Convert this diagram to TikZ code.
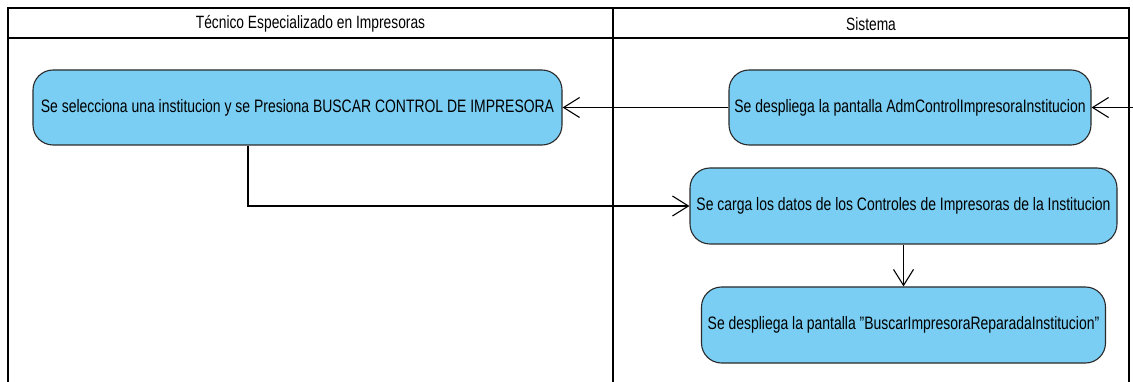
\documentclass[tikz,border=0pt]{standalone}
\usepackage{fontspec}
\setmainfont{Liberation Sans}[FakeStretch=0.775]
\usetikzlibrary{arrows.meta}
\definecolor{actfill}{HTML}{7ACEF3}
\definecolor{actline}{HTML}{2A2A2A}
\tikzset{
  action/.style={draw=actline, line width=1.1pt, fill=actfill, rounded corners=20pt,
    inner sep=0pt, minimum height=75pt, font=\fontsize{18}{21}\selectfont},
  lane/.style={draw=black, line width=1.8pt},
  lanetitle/.style={inner sep=0pt, font=\fontsize{17.8}{21}\selectfont},
  flow/.style={draw=black, line width=1.1pt,
    -{Straight Barb[length=16pt, width=20pt, line width=1.1pt]}}
}
\begin{document}
\begin{tikzpicture}[x=1pt, y=-1pt]
\useasboundingbox (0,0) rectangle (1133,382);
% swimlanes
\draw[lane] (8,382) -- (8,8) -- (1129,8) -- (1129,382);
\draw[lane] (8,38) -- (1129,38);
\draw[lane] (613,8) -- (613,382);
\node[lanetitle] (t1) at (310.5,24) {Técnico Especializado en Impresoras};
\node[lanetitle] (t2) at (871,24) {Sistema};
% actions
\node[action, minimum width=529pt] (n1) at (297.5,107.5)
  {Se selecciona una institucion y se Presiona BUSCAR CONTROL DE IMPRESORA};
\node[action, minimum width=362pt] (n2) at (910,107.5)
  {Se despliega la pantalla AdmControlImpresoraInstitucion};
\node[action, minimum width=427pt, minimum height=76pt] (n3) at (903.5,206)
  {Se carga los datos de los Controles de Impresoras de la Institucion};
\node[action, minimum width=404pt, minimum height=76pt] (n4) at (903.5,325)
  {Se despliega la pantalla \symbol{34}BuscarImpresoraReparadaInstitucion\symbol{34}};
% connectors
\coordinate (in) at (1133,107.5);
\coordinate (c1) at (248,0);
\draw[flow] (in) -- (n2.east);
\draw[flow] (n2.west) -- (n1.east);
\draw[flow] (n1.south -| c1) |- (n3.west);
\draw[flow] (n3.south) -- (n4.north);
\end{tikzpicture}
\end{document}
